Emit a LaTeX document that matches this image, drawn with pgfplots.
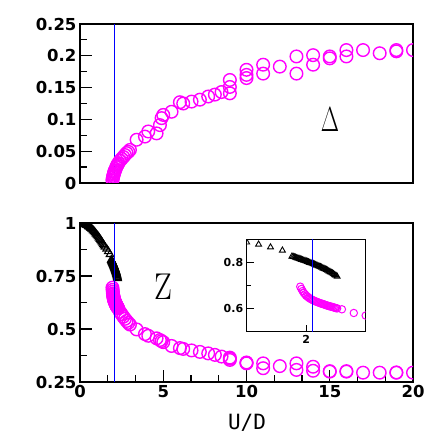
\documentclass[border=0pt]{standalone}
\usepackage{fontspec}
\usepackage{pgfplots}
\pgfplotsset{compat=1.18}
\newfontfamily\tickfont{DejaVu Sans}
\newfontfamily\labfont{DejaVu Sans Mono}
\definecolor{mag}{RGB}{255,0,255}

\pgfplotsset{
  panel/.style={scale only axis, width=333pt, height=159pt, xmin=0, xmax=20,
    axis line style={line width=1.5pt}, tick style={line width=1.2pt, black},
    major tick length=12pt, minor tick length=7pt,
    xtick pos=left, ytick pos=left, tick align=inside,
    clip marker paths=true,
    ticklabel style={font=\tickfont\bfseries\fontsize{16.5}{16.5}\selectfont},
  },
  mcirc/.style={only marks, mark=o, mark size=6.3pt, color=mag, mark options={line width=1.4pt}},
  tri/.style={only marks, mark=triangle, mark size=4.3pt, color=black, mark options={line width=1.1pt}},
}

% Z(U): black triangles (insulating branch) and magenta circles (metallic branch)
\pgfplotstableread{
U Z
0.00 1.000
0.05 1.000
0.10 0.999
0.15 0.998
0.20 0.997
0.25 0.996
0.30 0.994
0.35 0.992
0.40 0.990
0.45 0.988
0.50 0.985
0.55 0.982
0.60 0.979
0.65 0.976
0.70 0.972
0.75 0.968
0.80 0.964
0.85 0.960
0.90 0.955
0.95 0.950
1.00 0.945
1.05 0.940
1.10 0.935
1.15 0.930
1.20 0.924
1.25 0.918
1.30 0.912
1.35 0.906
1.40 0.899
1.45 0.893
1.50 0.887
1.60 0.878
1.70 0.866
1.80 0.852
1.88 0.826
1.89 0.825
1.90 0.823
1.91 0.821
1.92 0.819
1.93 0.818
1.94 0.816
1.95 0.814
1.96 0.812
1.97 0.810
1.98 0.808
1.99 0.807
2.00 0.805
2.01 0.803
2.02 0.801
2.03 0.799
2.04 0.797
2.05 0.795
2.06 0.793
2.07 0.791
2.08 0.789
2.09 0.787
2.10 0.784
2.11 0.782
2.12 0.780
2.13 0.778
2.14 0.775
2.15 0.773
2.16 0.770
2.17 0.768
2.18 0.765
2.19 0.762
2.20 0.759
2.21 0.756
2.22 0.753
2.23 0.750
2.24 0.746
2.25 0.743
2.26 0.739
}\zins

\pgfplotstableread{
U Z
1.95 0.695
1.96 0.685
1.97 0.676
1.98 0.668
1.99 0.662
2.00 0.656
2.01 0.652
2.02 0.648
2.03 0.644
2.04 0.641
2.05 0.638
2.06 0.636
2.07 0.633
2.08 0.631
2.09 0.629
2.10 0.627
2.11 0.625
2.12 0.623
2.13 0.621
2.14 0.620
2.15 0.618
2.16 0.616
2.17 0.614
2.18 0.613
2.19 0.611
2.20 0.610
2.21 0.608
2.22 0.607
2.23 0.605
2.24 0.604
2.25 0.602
2.26 0.601
2.3 0.597
2.4 0.581
2.5 0.570
2.6 0.558
2.7 0.548
2.8 0.538
2.9 0.529
3.0 0.521
3.4 0.498
3.9 0.476
4.1 0.468
4.6 0.456
4.8 0.448
4.9 0.443
5.0 0.438
5.5 0.420
6.0 0.410
6.2 0.406
6.7 0.399
7.2 0.392
7.7 0.385
8.1 0.378
8.5 0.370
9 0.354
9 0.360
9 0.365
10 0.338
10 0.340
10 0.342
11 0.338
11 0.315
12 0.325
13 0.338
13 0.307
14 0.322
14 0.303
15 0.299
15 0.301
16 0.299
16 0.301
17 0.294
18 0.294
19 0.294
19 0.295
20 0.294
}\zmet

\begin{document}
\begin{tikzpicture}
\path[use as bounding box] (0,0) rectangle (436pt,436pt);

% top panel: Delta
\begin{axis}[panel, at={(80pt,253pt)}, anchor=south west,
  ymin=0, ymax=0.25, xtick=\empty,
  ytick={0,0.05,0.1,0.15,0.2,0.25}, yticklabels={0,0.05,0.1,0.15,0.2,0.25},
  minor y tick num=1]
\addplot[blue, line width=1pt] coordinates {(2.055,0) (2.055,0.25)};
\addplot[mcirc] coordinates {
 (1.95,0.004)(1.96,0.006)(1.98,0.009)(2.00,0.011)(2.02,0.013)(2.04,0.015)(2.06,0.017)
 (2.08,0.018)(2.10,0.020)(2.14,0.022)(2.18,0.025)(2.22,0.027)(2.26,0.029)(2.3,0.031)
 (2.4,0.035)(2.5,0.038)(2.6,0.041)(2.7,0.044)(2.8,0.047)(2.9,0.049)(3.0,0.052)
 (3.4,0.068)(3.9,0.073)(4.1,0.081)(4.6,0.078)(4.8,0.091)(4.9,0.102)(5.0,0.107)
 (5.5,0.112)(6.0,0.127)(6.2,0.125)(6.7,0.128)(7.2,0.131)(7.7,0.136)(8.1,0.139)(8.5,0.143)
 (9,0.141)(9,0.151)(9,0.162)(10,0.165)(10,0.170)(10,0.178)(11,0.172)(11,0.186)
 (12,0.183)(13,0.172)(13,0.199)(14,0.186)(14,0.201)(15,0.196)(15,0.199)(16,0.199)
 (16,0.209)(17,0.209)(18,0.204)(19,0.207)(19,0.209)(20,0.209)};
\end{axis}

% bottom panel: Z
\begin{axis}[panel, at={(80pt,54pt)}, anchor=south west,
  ymin=0.25, ymax=1,
  xtick={0,5,10,15,20}, xticklabels={0,5,10,15,20}, minor x tick num=2,
  ytick={0.25,0.5,0.75,1}, yticklabels={0.25,0.5,0.75,1}, minor y tick num=1]
\addplot[tri] table[x=U, y=Z] {\zins};
\addplot[mcirc] table[x=U, y=Z] {\zmet};
\addplot[blue, line width=1pt] coordinates {(2.055,0.25) (2.055,1)};
\end{axis}

% inset
\begin{axis}[scale only axis, at={(246.7pt,104.3pt)}, anchor=south west,
  width=119pt, height=92.4pt, xmin=1.5, xmax=2.5, ymin=0.5, ymax=0.9,
  axis background/.style={fill=white},
  axis line style={line width=0.9pt}, tick style={line width=0.8pt, black},
  major tick length=7pt, minor tick length=4.5pt,
  xtick pos=left, ytick pos=left, tick align=inside, clip marker paths=true,
  xtick={2}, xticklabels={2}, ytick={0.6,0.8}, yticklabels={0.6,0.8},
  minor ytick={0.5,0.7,0.9},
  ticklabel style={font=\tickfont\bfseries\fontsize{11}{11}\selectfont}]
\addplot[tri, mark size=3.4pt, mark options={line width=0.9pt}] table[x=U, y=Z] {\zins};
\addplot[mcirc, mark size=3.7pt, mark options={line width=1pt}] table[x=U, y=Z] {\zmet};
\addplot[blue, line width=1pt] coordinates {(2.055,0.5) (2.055,0.9)};
\end{axis}

\node[font=\Huge, xscale=0.95, yscale=1.4] at (330pt,316pt) {$\Delta$};
\node[font=\Huge, xscale=1.27, yscale=1.5] at (163pt,149pt) {Z};
\node[font=\labfont\fontsize{21}{21}\selectfont] at (247pt,13pt) {U/D};
\end{tikzpicture}
\end{document}
